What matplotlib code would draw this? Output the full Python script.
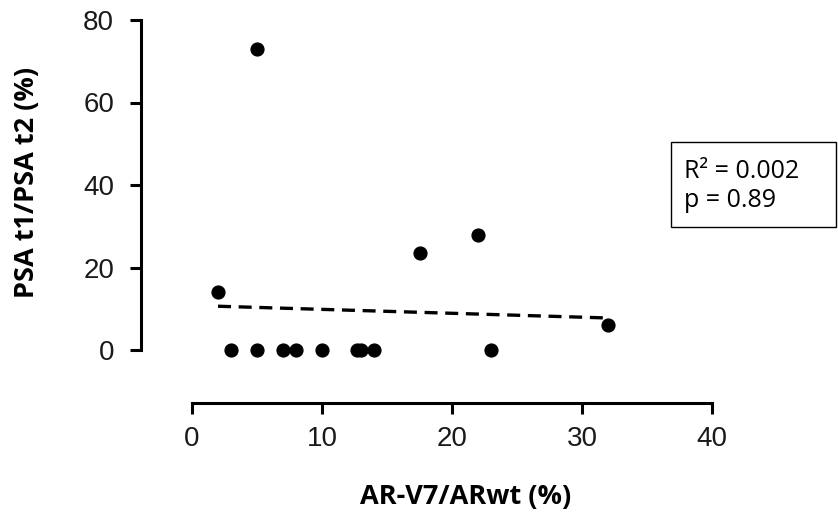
import matplotlib.pyplot as plt
from matplotlib.patches import Rectangle

# AR-V7/ARwt (%) vs PSA t1/PSA t2 (%)
ar_v7 = [2, 3, 5, 5, 7, 8, 10, 12.7, 13, 14, 17.5, 22, 23, 32]
psa_ratio = [14, 0, 0, 73, 0, 0, 0, 0, 0, 0, 23.5, 28, 0, 6]

# regression line
fit_x = [2, 32]
fit_intercept = 10.8
fit_slope = -0.095

x_ticks = [0, 10, 20, 30, 40]
y_ticks = [0, 20, 40, 60, 80]
stats_text = "R² = 0.002\np = 0.89"

W, H = 838, 521
fig = plt.figure(figsize=(W / 100, H / 100), dpi=100)
ax = fig.add_axes([192 / W, (H - 350) / H, (712 - 192) / W, (350 - 20) / H])

ax.scatter(ar_v7, psa_ratio, s=85, color="black", zorder=3, clip_on=False)
fit_y = [fit_intercept + fit_slope * v for v in fit_x]
ax.plot(fit_x, fit_y, color="black", linestyle=(0, (3.9, 2.3)), linewidth=2.4, clip_on=False)

ax.set_xlim(0, 40)
ax.set_ylim(0, 80)
ax.set_xticks(x_ticks)
ax.set_yticks(y_ticks)

for s in ["top", "right"]:
    ax.spines[s].set_visible(False)
ax.spines["left"].set_position(("outward", 37))
ax.spines["bottom"].set_position(("outward", 38))
for s in ["left", "bottom"]:
    ax.spines[s].set_linewidth(2.2)
ax.spines["left"].set_bounds(0, 80)
ax.spines["bottom"].set_bounds(0, 40)

ax.tick_params(axis="both", width=2.2, length=8, labelsize=20, colors="black")
ax.tick_params(axis="y", pad=11)
ax.tick_params(axis="x", pad=9)
for lab in ax.get_xticklabels() + ax.get_yticklabels():
    lab.set_fontfamily("Liberation Sans")
    lab.set_color("#1a1a1a")

fig.text(466 / W, (H - 497) / H, "AR-V7/ARwt (%)", ha="center", va="center",
         fontsize=19.5, fontweight="bold", family="Open Sans")
fig.text(27 / W, (H - 182) / H, "PSA t1/PSA t2 (%)", ha="center", va="center",
         rotation=90, fontsize=19.5, fontweight="bold", family="Open Sans")

box = Rectangle((671 / W, (H - 227) / H), (836 - 671) / W, (227 - 142) / H,
                transform=fig.transFigure, fill=False, edgecolor="black", linewidth=1)
fig.patches.append(box)
fig.text(684 / W, (H - 186) / H, stats_text, ha="left", va="center",
         fontsize=18, family="Open Sans", linespacing=1.2)

fig.savefig("out.png", dpi=100)
